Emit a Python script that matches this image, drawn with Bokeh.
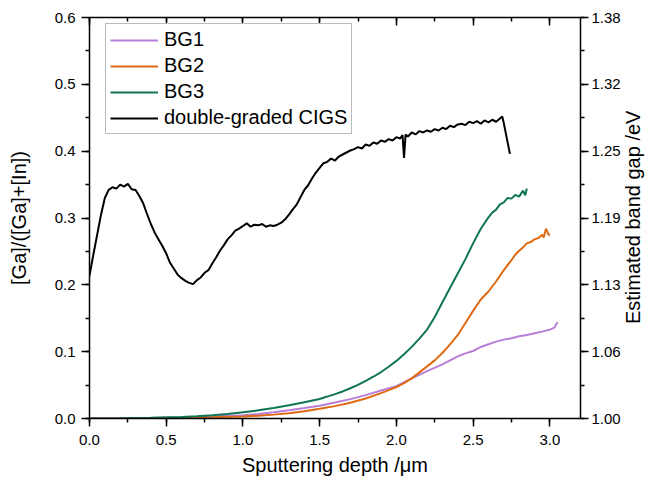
import math
from bokeh.plotting import figure
from bokeh.models import (Range1d, LinearAxis, FixedTicker, Legend, LegendItem)
from bokeh.embed import file_html
from bokeh.resources import INLINE

# ---------------- data ----------------
series_names = ["BG1", "BG2", "BG3", "double-graded CIGS"]
series_colors = ["#b97fd6", "#e06a12", "#0f7556", "#000000"]

bg1_x = [0.0, 0.4, 0.6, 0.8, 1.0, 1.1, 1.2, 1.3, 1.4, 1.5, 1.6, 1.7, 1.8, 1.9, 2.0,
         2.1, 2.2, 2.3, 2.35, 2.4, 2.45, 2.5, 2.55, 2.6, 2.65, 2.7, 2.75, 2.8, 2.85,
         2.9, 2.95, 3.0, 3.03, 3.05]
bg1_y = [0.0, 0.0008, 0.0018, 0.0030, 0.0048, 0.0068, 0.0095, 0.0125, 0.0158, 0.0192,
         0.0238, 0.0290, 0.0350, 0.0418, 0.0485, 0.0600, 0.0710, 0.0810, 0.0870, 0.0930,
         0.0975, 0.1010, 0.1070, 0.1110, 0.1150, 0.1180, 0.1200, 0.1230, 0.1250, 0.1275,
         0.1300, 0.1330, 0.1360, 0.1440]

bg2_x = [0.0, 0.4, 0.6, 0.8, 1.0, 1.1, 1.2, 1.3, 1.4, 1.5, 1.6, 1.7, 1.8, 1.9, 2.0,
         2.05, 2.1, 2.15, 2.2, 2.25, 2.3, 2.35, 2.4, 2.45, 2.5, 2.55, 2.6, 2.65, 2.7,
         2.75, 2.775, 2.8, 2.825, 2.85, 2.875, 2.9, 2.925, 2.95, 2.96, 2.975, 2.99, 3.0]
bg2_y = [0.0, 0.0004, 0.0009, 0.0018, 0.0030, 0.0042, 0.0058, 0.0080, 0.0108, 0.0145,
         0.0185, 0.0235, 0.0300, 0.0380, 0.0470, 0.0530, 0.0600, 0.0690, 0.0780, 0.0870,
         0.0980, 0.1110, 0.1250, 0.1430, 0.1610, 0.1780, 0.1900, 0.2050, 0.2220, 0.2370,
         0.2450, 0.2510, 0.2560, 0.2620, 0.2640, 0.2680, 0.2700, 0.2750, 0.2710, 0.2840,
         0.2760, 0.2740]

bg3_x = [0.0, 0.2, 0.4, 0.6, 0.7, 0.8, 0.9, 1.0, 1.1, 1.2, 1.3, 1.4, 1.5, 1.55, 1.6,
         1.65, 1.7, 1.75, 1.8, 1.85, 1.9, 1.95, 2.0, 2.05, 2.1, 2.15, 2.2, 2.25, 2.3,
         2.35, 2.4, 2.45, 2.5, 2.55, 2.6, 2.625, 2.65, 2.675, 2.7, 2.725, 2.75, 2.775,
         2.8, 2.825, 2.84, 2.85]
bg3_y = [0.0, 0.0005, 0.0012, 0.0022, 0.0032, 0.0048, 0.0068, 0.0092, 0.0122, 0.0158,
         0.0198, 0.0242, 0.0292, 0.0328, 0.0365, 0.0405, 0.0452, 0.0502, 0.0562, 0.0625,
         0.0695, 0.0775, 0.0862, 0.0962, 0.1072, 0.1195, 0.1330, 0.1520, 0.1740, 0.1955,
         0.2170, 0.2385, 0.2620, 0.2840, 0.3010, 0.3080, 0.3125, 0.3205, 0.3235, 0.3300,
         0.3290, 0.3345, 0.3320, 0.3410, 0.3340, 0.3440]

dg_x = [0.0, 0.025, 0.05, 0.075, 0.1, 0.125, 0.15, 0.175, 0.2, 0.225, 0.25, 0.275,
        0.3, 0.325, 0.35, 0.375, 0.4, 0.425, 0.45, 0.475, 0.5, 0.525, 0.55, 0.575,
        0.6, 0.625, 0.65, 0.675, 0.7, 0.725, 0.75, 0.775, 0.8, 0.825, 0.85, 0.875,
        0.9, 0.925, 0.95, 0.975, 1.0, 1.025, 1.05, 1.075, 1.1, 1.125, 1.15, 1.175,
        1.2, 1.225, 1.25, 1.275, 1.3, 1.325, 1.35, 1.375, 1.4, 1.425, 1.45, 1.475,
        1.5, 1.525, 1.55, 1.575, 1.6, 1.625, 1.65, 1.675, 1.7, 1.725, 1.75, 1.775,
        1.8, 1.825, 1.85, 1.875, 1.9, 1.925, 1.95, 1.975, 2.0, 2.025, 2.04, 2.05,
        2.06, 2.075, 2.1, 2.125, 2.15, 2.175, 2.2, 2.225, 2.25, 2.275, 2.3, 2.325,
        2.35, 2.375, 2.4, 2.425, 2.45, 2.475, 2.5, 2.525, 2.55, 2.575, 2.6, 2.625,
        2.65, 2.675, 2.69, 2.7, 2.74]
dg_y = [0.214, 0.245, 0.275, 0.305, 0.330, 0.342, 0.346, 0.344, 0.350, 0.347, 0.351, 0.343,
        0.342, 0.333, 0.322, 0.306, 0.291, 0.278, 0.268, 0.258, 0.247, 0.233, 0.224, 0.215,
        0.210, 0.206, 0.203, 0.201, 0.207, 0.211, 0.218, 0.222, 0.232, 0.241, 0.251, 0.259,
        0.268, 0.274, 0.281, 0.284, 0.288, 0.292, 0.287, 0.290, 0.289, 0.291, 0.287, 0.289,
        0.288, 0.290, 0.293, 0.298, 0.305, 0.313, 0.320, 0.331, 0.342, 0.349, 0.359, 0.368,
        0.375, 0.382, 0.384, 0.389, 0.386, 0.392, 0.395, 0.398, 0.401, 0.403, 0.406, 0.404,
        0.410, 0.408, 0.413, 0.411, 0.416, 0.414, 0.418, 0.416, 0.421, 0.419, 0.424, 0.390,
        0.425, 0.422, 0.428, 0.425, 0.430, 0.428, 0.431, 0.429, 0.433, 0.431, 0.435, 0.433,
        0.438, 0.436, 0.440, 0.441, 0.439, 0.444, 0.442, 0.445, 0.441, 0.446, 0.443, 0.447,
        0.444, 0.449, 0.452, 0.442, 0.396]

left_ticks = [0.0, 0.1, 0.2, 0.3, 0.4, 0.5, 0.6]
left_tick_labels = ["0.0", "0.1", "0.2", "0.3", "0.4", "0.5", "0.6"]
bottom_ticks = [0.0, 0.5, 1.0, 1.5, 2.0, 2.5, 3.0]
bottom_tick_labels = ["0.0", "0.5", "1.0", "1.5", "2.0", "2.5", "3.0"]
right_tick_labels = ["1.00", "1.06", "1.13", "1.19", "1.25", "1.32", "1.38"]

x_title = "Sputtering depth /\u03bcm"
y_title = "[Ga]/([Ga]+[In])"
y2_title = "Estimated band gap /eV"

# ---------------- figure ----------------
FONT = "Liberation Sans"
p = figure(width=657, height=484, output_backend="svg", toolbar_location=None,
           x_range=Range1d(0, 3.2), y_range=Range1d(0, 0.6),
           min_border_left=89, min_border_right=69, min_border_top=17,
           min_border_bottom=66, y_axis_location="left")
p.xgrid.visible = False
p.ygrid.visible = False
p.outline_line_color = None
p.background_fill_color = "white"
p.border_fill_color = "white"

data = [(bg1_x, bg1_y), (bg2_x, bg2_y), (bg3_x, bg3_y), (dg_x, dg_y)]
renderers = []
for (xs, ys), c in zip(data, series_colors):
    r = p.line(xs, ys, line_color=c, line_width=2)
    renderers.append(r)

def style_axis(ax):
    ax.axis_line_color = "black"
    ax.axis_line_width = 1.5
    ax.major_tick_line_color = "black"
    ax.minor_tick_line_color = "black"
    ax.major_tick_line_width = 1.5
    ax.minor_tick_line_width = 1.5
    ax.major_label_text_font = FONT
    ax.major_label_text_font_size = "15px"
    ax.major_label_text_color = "black"
    ax.axis_label_text_font = FONT
    ax.axis_label_text_font_size = "20px"
    ax.axis_label_text_font_style = "normal"
    ax.axis_label_text_color = "black"

# bottom axis
xa = p.xaxis[0]
xa.ticker = FixedTicker(ticks=bottom_ticks, minor_ticks=[i * 0.25 for i in range(13)])
xa.major_label_overrides = dict(zip(bottom_ticks, bottom_tick_labels))
xa.axis_label = x_title
style_axis(xa)
xa.major_tick_out = 8
xa.major_tick_in = 0
xa.minor_tick_out = 4
xa.minor_tick_in = 0
xa.major_label_standoff = 8
xa.axis_label_standoff = 6

# left axis
ya = p.yaxis[0]
ya.ticker = FixedTicker(ticks=left_ticks, minor_ticks=[i * 0.05 for i in range(13)])
ya.major_label_overrides = dict(zip(left_ticks, left_tick_labels))
ya.axis_label = y_title
style_axis(ya)
ya.major_tick_out = 8
ya.major_tick_in = 0
ya.minor_tick_out = 4
ya.minor_tick_in = 0
ya.major_label_standoff = 6
ya.axis_label_standoff = 22

# right axis (band gap); title reads bottom-to-top, started from the axis start
# and moved up with non-breaking spaces so it sits centred like the reference
p.extra_y_ranges = {"bg": Range1d(1.0, 1.38)}
rt = [round(1.0 + 0.38 * k / 6, 9) for k in range(7)]
ra = LinearAxis(y_range_name="bg",
                ticker=FixedTicker(ticks=rt, minor_ticks=[round(1.0 + 0.38 * k / 12, 9) for k in range(13)]))
ra.major_label_overrides = dict(zip(rt, right_tick_labels))
style_axis(ra)
ra.major_tick_out = 8
ra.major_tick_in = 0
ra.minor_tick_out = 4
ra.minor_tick_in = 0
ra.major_label_standoff = 3
ra.axis_label = "\u00a0" * 17 + y2_title
ra.axis_label_standoff = 9
ra.axis_label_orientation = math.pi / 2
ra.axis_label_align = "start"
p.add_layout(ra, "right")

# top axis (ticks inside, no labels)
ta = LinearAxis(ticker=FixedTicker(ticks=bottom_ticks, minor_ticks=[i * 0.25 for i in range(13)]))
style_axis(ta)
ta.major_tick_out = 0
ta.major_tick_in = 8
ta.minor_tick_out = 0
ta.minor_tick_in = 4
ta.major_label_text_font_size = "1px"
ta.major_label_text_color = None
ta.major_label_standoff = 0
p.add_layout(ta, "above")

legend = Legend(items=[LegendItem(label=n, renderers=[r]) for n, r in zip(series_names, renderers)],
                location=(16, 284))
legend.label_text_font = FONT
legend.label_text_font_size = "20px"
legend.label_text_color = "black"
legend.glyph_width = 48
legend.glyph_height = 20
legend.label_height = 20
legend.spacing = 3
legend.padding = 4
legend.margin = 0
legend.label_standoff = 6
legend.border_line_color = "#777777"
legend.border_line_width = 1
legend.background_fill_color = "white"
legend.background_fill_alpha = 1.0
p.add_layout(legend, "center")

open("out.html", "w").write(file_html(p, INLINE))
